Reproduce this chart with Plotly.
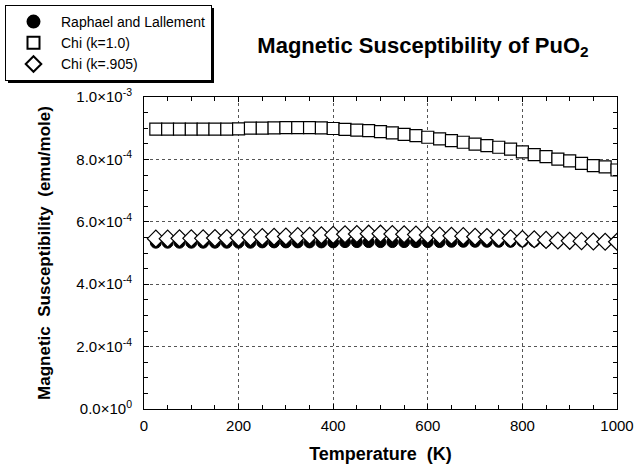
import plotly.graph_objects as go

temperature = [25, 50, 75, 100, 125, 150, 175, 200, 225, 250,
               275, 300, 325, 350, 375, 400, 425, 450, 475, 500,
               525, 550, 575, 600, 625, 650, 675, 700, 725, 750,
               775, 800, 825, 850, 875, 900, 925, 950, 975, 1000]

raphael = [5.33e-4, 5.33e-4, 5.33e-4, 5.33e-4, 5.33e-4, 5.33e-4, 5.33e-4, 5.33e-4, 5.33e-4, 5.34e-4,
           5.34e-4, 5.34e-4, 5.34e-4, 5.34e-4, 5.34e-4, 5.34e-4, 5.35e-4, 5.35e-4, 5.35e-4, 5.35e-4,
           5.35e-4, 5.35e-4, 5.35e-4, 5.35e-4, 5.35e-4, 5.36e-4, 5.36e-4, 5.36e-4, 5.36e-4, 5.36e-4,
           5.36e-4, 5.37e-4, 5.37e-4, 5.37e-4, 5.37e-4, 5.37e-4, 5.38e-4, 5.38e-4, 5.38e-4, 5.38e-4]

chi_k10 = [8.97e-4, 8.97e-4, 8.97e-4, 8.97e-4, 8.97e-4, 8.97e-4, 8.97e-4, 8.98e-4, 9.00e-4, 9.00e-4,
           9.01e-4, 9.02e-4, 9.02e-4, 9.02e-4, 9.01e-4, 8.99e-4, 8.96e-4, 8.94e-4, 8.92e-4, 8.89e-4,
           8.85e-4, 8.80e-4, 8.76e-4, 8.71e-4, 8.66e-4, 8.60e-4, 8.55e-4, 8.49e-4, 8.44e-4, 8.39e-4,
           8.33e-4, 8.24e-4, 8.15e-4, 8.09e-4, 8.01e-4, 7.95e-4, 7.87e-4, 7.80e-4, 7.76e-4, 7.66e-4]

chi_k905 = [5.46e-4, 5.46e-4, 5.47e-4, 5.47e-4, 5.47e-4, 5.48e-4, 5.48e-4, 5.49e-4, 5.50e-4, 5.51e-4,
            5.52e-4, 5.53e-4, 5.54e-4, 5.55e-4, 5.57e-4, 5.58e-4, 5.60e-4, 5.61e-4, 5.62e-4, 5.62e-4,
            5.61e-4, 5.60e-4, 5.59e-4, 5.58e-4, 5.56e-4, 5.55e-4, 5.54e-4, 5.52e-4, 5.51e-4, 5.49e-4,
            5.47e-4, 5.45e-4, 5.44e-4, 5.42e-4, 5.40e-4, 5.39e-4, 5.38e-4, 5.37e-4, 5.36e-4, 5.36e-4]

y_tickvals = [0, 2e-4, 4e-4, 6e-4, 8e-4, 1e-3]
y_ticktext = ["0.0\u00d710<sup>0</sup>", "2.0\u00d710<sup>-4</sup>", "4.0\u00d710<sup>-4</sup>",
              "6.0\u00d710<sup>-4</sup>", "8.0\u00d710<sup>-4</sup>", "1.0\u00d710<sup>-3</sup>"]
x_tickvals = [0, 200, 400, 600, 800, 1000]

FONT = "Liberation Sans, Arial, sans-serif"

fig = go.Figure()
fig.add_trace(go.Scatter(x=temperature, y=raphael, mode="markers", name="Raphael and Lallement",
                         marker=dict(symbol="circle", size=11, color="black",
                                     line=dict(color="black", width=1))))
fig.add_trace(go.Scatter(x=temperature, y=chi_k10, mode="markers", name="Chi (k=1.0)",
                         marker=dict(symbol="square", size=12, color="white",
                                     line=dict(color="black", width=1.2))))
fig.add_trace(go.Scatter(x=temperature, y=chi_k905, mode="markers", name="Chi (k=.905)",
                         marker=dict(symbol="diamond", size=13, color="white",
                                     line=dict(color="black", width=1.2))))

L, R, T, B = 144, 22, 97, 57
W, H = 639, 466
pw, ph = W - L - R, H - T - B

def px_to_paper_x(px):
    return (px - L) / pw

def px_to_paper_y(py):
    return (H - B - py) / ph

# legend drop shadow
fig.add_shape(type="rect", xref="paper", yref="paper",
              x0=px_to_paper_x(8), x1=px_to_paper_x(214),
              y0=px_to_paper_y(83), y1=px_to_paper_y(8),
              fillcolor="black", line=dict(width=0), layer="below")

fig.update_layout(
    width=W, height=H,
    margin=dict(l=L, r=R, t=T, b=B, autoexpand=False),
    paper_bgcolor="white", plot_bgcolor="white",
    font=dict(family=FONT, color="black", size=14),
    title=dict(text="<b>Magnetic Susceptibility of PuO<sub>2</sub></b>",
               x=423 / W, xanchor="center", xref="container",
               y=1 - 45 / H, yanchor="middle", yref="container",
               font=dict(size=22, family=FONT, color="black")),
    showlegend=True,
    legend=dict(xref="paper", yref="paper", x=px_to_paper_x(5), y=px_to_paper_y(5),
                xanchor="left", yanchor="top",
                bgcolor="white", bordercolor="black", borderwidth=1,
                font=dict(size=14, family=FONT), itemwidth=45,
                tracegroupgap=0, itemsizing="constant"),
    xaxis=dict(range=[0, 1000], tickvals=x_tickvals, ticks="inside", ticklen=5,
               tickcolor="black", showline=True, linecolor="black", linewidth=1,
               mirror="ticks", showgrid=True, gridcolor="#555", griddash="dot",
               gridwidth=1, zeroline=False, tickfont=dict(size=15), automargin=False,
               ticklabelstandoff=3,
               minor=dict(dtick=50, ticks="inside", ticklen=4, tickcolor="black", showgrid=False),
               title=dict(text="<b>Temperature  (K)</b>", font=dict(size=18), standoff=14)),
    yaxis=dict(range=[0, 1e-3], tickvals=y_tickvals, ticktext=y_ticktext, ticks="inside",
               ticklen=5, tickcolor="black", showline=True, linecolor="black", linewidth=1,
               mirror="ticks", showgrid=True, gridcolor="#555", griddash="dot",
               gridwidth=1, zeroline=False, tickfont=dict(size=15), automargin=False,
               ticklabelstandoff=8,
               minor=dict(dtick=5e-5, ticks="inside", ticklen=4, tickcolor="black", showgrid=False),
               title=dict(text="<b>Magnetic  Susceptibility  (emu/mole)</b>", font=dict(size=17),
                          standoff=21)),
)

fig.write_html("out.html", config={"displayModeBar": False},
               post_script="document.body.style.margin='0';window.dispatchEvent(new Event('resize'));")
